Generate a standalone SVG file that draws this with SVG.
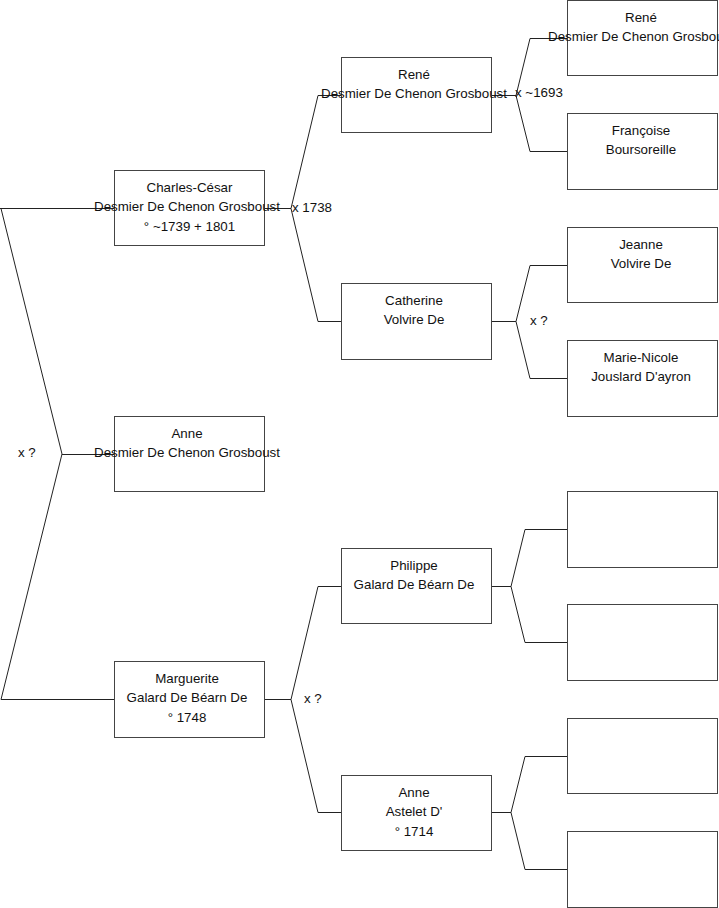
<svg xmlns="http://www.w3.org/2000/svg" width="719" height="908" viewBox="0 0 719 908">
<style>
.box{fill:#fff;stroke:#444;stroke-width:1}
.ln{fill:none;stroke:#222;stroke-width:1}
text{font-family:"Liberation Sans",Arial,sans-serif;font-size:13.33px;fill:#111}
.c{text-anchor:middle}
</style>
<rect width="719" height="908" fill="#fff"/>
<g id="connectors">
<path class="ln" d="M0,208.5H114.5M1,208.5L62,454L1,699.5H114.5M62,454.5H114.5"/>
<path class="ln" d="M264.5,208.5H291L318,95.5H341.5M291,208.5L318,321.5H341.5"/>
<path class="ln" d="M264.5,699.5H291L318,586.5H341.5M291,699.5L318,812.5H341.5"/>
<path class="ln" d="M491.5,95.5H516L530,38.5H567.5M516,95.5L530,151.5H567.5"/>
<path class="ln" d="M491.5,321.5H516L530,265.5H567.5M516,321.5L530,378.5H567.5"/>
<path class="ln" d="M491.5,586.5H511L525,529.5H567.5M511,586.5L525,642.5H567.5"/>
<path class="ln" d="M491.5,812.5H511L525,756.5H567.5M511,812.5L525,869.5H567.5"/>
<text x="18" y="457">x ?</text>
<text x="292" y="211.5">x 1738</text>
<text x="304" y="703">x ?</text>
<text x="515" y="97">x ~1693</text>
<text x="530" y="325">x ?</text>
</g>
<g id="n-charles"><rect class="box" x="114.5" y="170.5" width="150" height="75"/>
<text class="c" x="189.5" y="191.5">Charles-César</text><text class="c" x="187" y="211">Desmier De Chenon Grosboust</text><text class="c" x="189.5" y="230.5">° ~1739 + 1801</text></g>
<g id="n-anne1"><rect class="box" x="114.5" y="416.5" width="150" height="75"/>
<text class="c" x="187" y="437.5">Anne</text><text class="c" x="187" y="457">Desmier De Chenon Grosboust</text></g>
<g id="n-marguerite"><rect class="box" x="114.5" y="661.5" width="150" height="76"/>
<text class="c" x="187" y="682.5">Marguerite</text><text class="c" x="187" y="702">Galard De Béarn De</text><text class="c" x="187" y="721.5">° 1748</text></g>
<g id="n-rene2"><rect class="box" x="341.5" y="57.5" width="150" height="75"/>
<text class="c" x="414" y="78.5">René</text><text class="c" x="414" y="98">Desmier De Chenon Grosboust</text></g>
<g id="n-catherine"><rect class="box" x="341.5" y="283.5" width="150" height="76"/>
<text class="c" x="414" y="304.5">Catherine</text><text class="c" x="414" y="324">Volvire De</text></g>
<g id="n-philippe"><rect class="box" x="341.5" y="548.5" width="150" height="75"/>
<text class="c" x="414" y="569.5">Philippe</text><text class="c" x="414" y="589">Galard De Béarn De</text></g>
<g id="n-anne2"><rect class="box" x="341.5" y="775.5" width="150" height="75"/>
<text class="c" x="414" y="796.5">Anne</text><text class="c" x="414" y="816">Astelet D'</text><text class="c" x="414" y="835.5">° 1714</text></g>
<g id="n-rene3"><rect class="box" x="567.5" y="0.5" width="150" height="75"/>
<text class="c" x="641" y="21.5">René</text><text class="c" x="641" y="41">Desmier De Chenon Grosboust</text></g>
<g id="n-francoise"><rect class="box" x="567.5" y="113.5" width="150" height="76"/>
<text class="c" x="641" y="134.5">Françoise</text><text class="c" x="641" y="154">Boursoreille</text></g>
<g id="n-jeanne"><rect class="box" x="567.5" y="227.5" width="150" height="75"/>
<text class="c" x="641" y="248.5">Jeanne</text><text class="c" x="641" y="268">Volvire De</text></g>
<g id="n-marienicole"><rect class="box" x="567.5" y="340.5" width="150" height="76"/>
<text class="c" x="641" y="361.5">Marie-Nicole</text><text class="c" x="641" y="381">Jouslard D'ayron</text></g>
<g id="n-empty1"><rect class="box" x="567.5" y="491.5" width="150" height="76"/></g>
<g id="n-empty2"><rect class="box" x="567.5" y="604.5" width="150" height="76"/></g>
<g id="n-empty3"><rect class="box" x="567.5" y="718.5" width="150" height="75"/></g>
<g id="n-empty4"><rect class="box" x="567.5" y="831.5" width="150" height="76"/></g>
</svg>
